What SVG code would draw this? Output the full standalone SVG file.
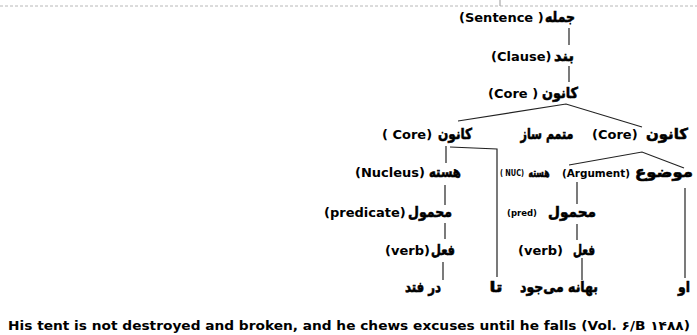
<svg xmlns="http://www.w3.org/2000/svg" width="697" height="335" viewBox="0 0 697 335">
  <style>
    text { font-family: "DejaVu Sans", "Liberation Sans", sans-serif; font-weight: bold; fill: #000; }
    .lat { font-size: 13px; }
    .fa { font-size: 15px; text-anchor: middle; stroke: #000; stroke-width: 0.6; }
    .fa-s { font-size: 12.5px; }
    .sm { font-size: 8.5px; }
    .md { font-size: 11px; }
    .cap { font-size: 12.5px; }
    .edge { stroke: #222; stroke-width: 1.2; fill: none; }
    .rule { stroke: #b8b8b8; stroke-width: 1; stroke-dasharray: 3 2; }
  </style>

  <!-- page rule at the top -->
  <line class="rule" x1="0" y1="6" x2="697" y2="6"/>
  <line x1="500" y1="0" x2="500" y2="6" stroke="#999" stroke-width="1"/>

  <g id="connectors">
    <line class="edge" x1="569" y1="28" x2="569" y2="45"/>
    <line class="edge" x1="569" y1="66" x2="569" y2="82"/>
    <polyline class="edge" points="458,121 566,104 642,127"/>
    <line class="edge" x1="446" y1="146" x2="446" y2="163"/>
    <polyline class="edge" points="450,147 497,149 497,277"/>
    <polyline class="edge" points="569,165 642,152 684,168"/>
    <line class="edge" x1="445" y1="185" x2="445" y2="205"/>
    <line class="edge" x1="577" y1="182" x2="577" y2="204"/>
    <line class="edge" x1="685" y1="188" x2="685" y2="278"/>
    <line class="edge" x1="445" y1="223" x2="445" y2="239"/>
    <line class="edge" x1="577" y1="224" x2="577" y2="240"/>
    <line class="edge" x1="443" y1="262" x2="443" y2="280"/>
    <line class="edge" x1="582" y1="258" x2="582" y2="280"/>
  </g>

  <g id="sentence">
    <text class="lat" x="459" y="22">(Sentence )</text>
    <text class="fa" x="560" y="22" textLength="30" lengthAdjust="spacingAndGlyphs">جمله</text>
  </g>
  <g id="clause">
    <text class="lat" x="491" y="61">(Clause)</text>
    <text class="fa" x="564" y="61" textLength="20" lengthAdjust="spacingAndGlyphs">بند</text>
  </g>
  <g id="core-top">
    <text class="lat" x="488" y="98">(Core )</text>
    <text class="fa" x="560" y="98" textLength="36" lengthAdjust="spacingAndGlyphs">کانون</text>
  </g>

  <g id="core-left">
    <text class="lat" x="382" y="139">( Core)</text>
    <text class="fa" x="455" y="139" textLength="34" lengthAdjust="spacingAndGlyphs">کانون</text>
  </g>
  <g id="complementizer">
    <text class="fa" x="547" y="139" textLength="53" lengthAdjust="spacingAndGlyphs">متمم ساز</text>
  </g>
  <g id="core-right">
    <text class="lat" x="592" y="139">(Core)</text>
    <text class="fa" x="667" y="139" textLength="42" lengthAdjust="spacingAndGlyphs">کانون</text>
  </g>

  <g id="nucleus">
    <text class="lat" x="355" y="177">(Nucleus)</text>
    <text class="fa" x="445" y="177" textLength="32" lengthAdjust="spacingAndGlyphs">هسته</text>
  </g>
  <g id="nuc-argument">
    <text class="sm" x="500" y="176" textLength="24" lengthAdjust="spacingAndGlyphs">( NUC)</text>
    <text class="fa fa-s" x="539" y="177" textLength="21" lengthAdjust="spacingAndGlyphs">هسته</text>
    <text class="md" x="562" y="177" textLength="68" lengthAdjust="spacingAndGlyphs">(Argument)</text>
    <text class="fa" x="664" y="177" textLength="58" lengthAdjust="spacingAndGlyphs">موضوع</text>
  </g>

  <g id="predicate">
    <text class="lat" x="324" y="217">(predicate)</text>
    <text class="fa" x="430" y="217" textLength="44" lengthAdjust="spacingAndGlyphs">محمول</text>
  </g>
  <g id="pred">
    <text class="sm" x="507" y="216">(pred)</text>
    <text class="fa" x="572" y="217" textLength="48" lengthAdjust="spacingAndGlyphs">محمول</text>
  </g>

  <g id="verb-left">
    <text class="lat" x="385" y="255">(verb)</text>
    <text class="fa" x="443" y="255" textLength="24" lengthAdjust="spacingAndGlyphs">فعل</text>
  </g>
  <g id="verb-mid">
    <text class="lat" x="518" y="255">(verb)</text>
    <text class="fa" x="584" y="255" textLength="22" lengthAdjust="spacingAndGlyphs">فعل</text>
  </g>

  <g id="word-dar-fatad"><text class="fa" x="423" y="292" textLength="36" lengthAdjust="spacingAndGlyphs">در فتد</text></g>
  <g id="word-ta"><text class="fa" x="496" y="292" textLength="13" lengthAdjust="spacingAndGlyphs">تا</text></g>
  <g id="word-bahane"><text class="fa" x="559" y="292" textLength="78" lengthAdjust="spacingAndGlyphs">بهانه می‌جود</text></g>
  <g id="word-u"><text class="fa" x="684" y="292" textLength="12" lengthAdjust="spacingAndGlyphs">او</text></g>

  <text class="cap" x="8" y="330" textLength="682" lengthAdjust="spacingAndGlyphs">His tent is not destroyed and broken, and he chews excuses until he falls (Vol. ۶/B ۱۴۸۸)</text>
</svg>
